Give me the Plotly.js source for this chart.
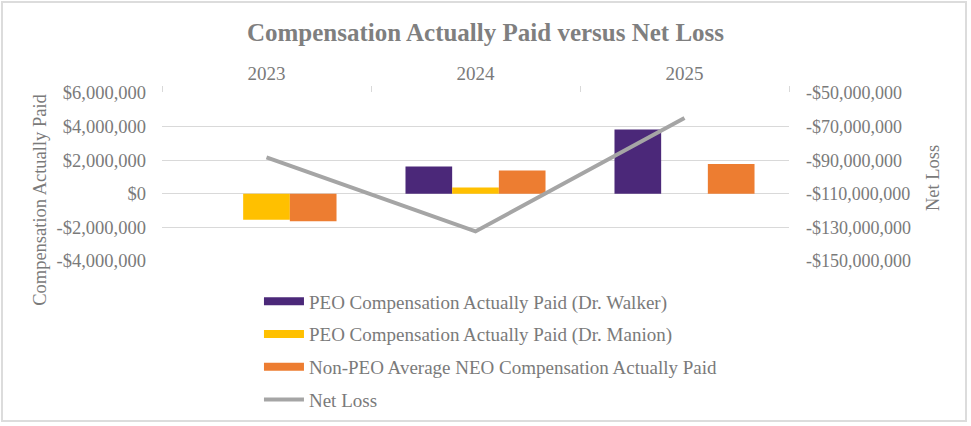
<!DOCTYPE html>
<html>
<head>
<meta charset="utf-8">
<script src="https://cdn.plot.ly/plotly-3.0.1.min.js"></script>
<style>
  html, body { margin: 0; padding: 0; background: #ffffff; }
  #wrap { position: relative; width: 971px; height: 426px; }
  #chart { width: 971px; height: 426px; }
  #frame { position: absolute; left: 1px; top: 1px; width: 966px; height: 421px;
           border: 2px solid #dcdcdc; box-sizing: border-box; pointer-events: none; }
</style>
</head>
<body>
<div id="wrap"><div id="chart"></div><div id="frame"></div></div>
<script>
// ---- data ----
const years = ["2023", "2024", "2025"];
const peoWalker = [null, 1620000, 3820000];
const peoManion = [-1540000, 370000, null];
const nonPeoAvg = [-1640000, 1380000, 1780000];
const netLoss = [-88300000, -132400000, -64900000];

const leftTickVals = [-4000000, -2000000, 0, 2000000, 4000000, 6000000];
const leftTickText = ["-$4,000,000", "-$2,000,000", "$0", "$2,000,000", "$4,000,000", "$6,000,000"];
const rightTickVals = [-150000000, -130000000, -110000000, -90000000, -70000000, -50000000];
const rightTickText = ["-$150,000,000", "-$130,000,000", "-$110,000,000", "-$90,000,000", "-$70,000,000", "-$50,000,000"];

const names = ["PEO Compensation Actually Paid (Dr. Walker)",
               "PEO Compensation Actually Paid (Dr. Manion)",
               "Non-PEO Average NEO Compensation Actually Paid",
               "Net Loss"];
const colors = ["#4b2879", "#ffc000", "#ed7d31", "#a5a5a5"];

const FONT = "Liberation Serif, Times New Roman, serif";
const GRAY = "#7a7a7a";

const traces = [
  {type: "bar", x: years, y: peoWalker, marker: {color: colors[0]}, showlegend: false, name: names[0], hoverinfo: "skip"},
  {type: "bar", x: years, y: peoManion, marker: {color: colors[1]}, showlegend: false, name: names[1], hoverinfo: "skip"},
  {type: "bar", x: years, y: nonPeoAvg, marker: {color: colors[2]}, showlegend: false, name: names[2], hoverinfo: "skip"},
  {type: "scatter", mode: "lines", x: years, y: netLoss, yaxis: "y2", line: {color: colors[3], width: 4}, showlegend: false, name: names[3], hoverinfo: "skip"},
  // legend entries (no data points)
  {type: "scatter", mode: "lines", x: [null], y: [null], name: names[0], line: {color: colors[0], width: 8}, legendgroup: "a"},
  {type: "scatter", mode: "lines", x: [null], y: [null], name: names[1], line: {color: colors[1], width: 8}, legendgroup: "b"},
  {type: "scatter", mode: "lines", x: [null], y: [null], name: names[2], line: {color: colors[2], width: 8}, legendgroup: "c"},
  {type: "scatter", mode: "lines", x: [null], y: [null], name: names[3], line: {color: colors[3], width: 4}, legendgroup: "d"}
];

const layout = {
  width: 971, height: 426,
  margin: {l: 162, r: 182, t: 92.5, b: 164.5, pad: 0, autoexpand: false},
  paper_bgcolor: "#ffffff", plot_bgcolor: "#ffffff",
  font: {family: FONT, size: 18, color: GRAY},
  title: {text: "<b>Compensation Actually Paid versus Net Loss</b>", font: {family: FONT, size: 25, color: "#7f7f7f"},
          x: 0.5, xref: "container", xanchor: "center", y: 0.925, yref: "container", yanchor: "middle"},
  barmode: "group", bargap: 0.33, bargroupgap: 0,
  xaxis: {type: "category", side: "top", tickson: "boundaries", ticks: "outside", ticklen: 6,
          tickcolor: "#d9d9d9", showline: false, showgrid: false, zeroline: false, ticklabelstandoff: 8,
          tickfont: {family: FONT, size: 19, color: GRAY}, fixedrange: true},
  yaxis: {range: [-4000000, 6000000], tickvals: leftTickVals, ticktext: leftTickText,
          showgrid: true, gridcolor: "#d9d9d9", gridwidth: 1, zeroline: false, showline: false,
          ticks: "", ticklabelstandoff: 15, tickfont: {family: FONT, size: 18.5, color: GRAY},
          fixedrange: true},
  yaxis2: {overlaying: "y", side: "right", range: [-150000000, -50000000], tickvals: rightTickVals, ticktext: rightTickText,
           showgrid: false, zeroline: false, showline: false, ticks: "", ticklabelstandoff: 16,
           tickfont: {family: FONT, size: 18, color: GRAY},
           fixedrange: true},
  annotations: [
    {text: "Compensation Actually Paid", textangle: -90, xref: "paper", yref: "paper",
     x: -0.1946, y: 0.364, xanchor: "center", yanchor: "middle", showarrow: false,
     font: {family: FONT, size: 18.5, color: GRAY}},
    {text: "Net Loss", textangle: -90, xref: "paper", yref: "paper",
     x: 1.2297, y: 0.494, xanchor: "center", yanchor: "middle", showarrow: false,
     font: {family: FONT, size: 18.5, color: GRAY}}
  ],
  legend: {orientation: "v", xref: "container", yref: "container", x: 0.2667, xanchor: "left", y: 0.337, yanchor: "top",
           font: {family: FONT, size: 19, color: GRAY}, itemwidth: 40, tracegroupgap: 5,
           traceorder: "grouped", bgcolor: "rgba(0,0,0,0)"},
  showlegend: true
};

Plotly.newPlot("chart", traces, layout, {displayModeBar: false, staticPlot: true});
</script>
</body>
</html>
